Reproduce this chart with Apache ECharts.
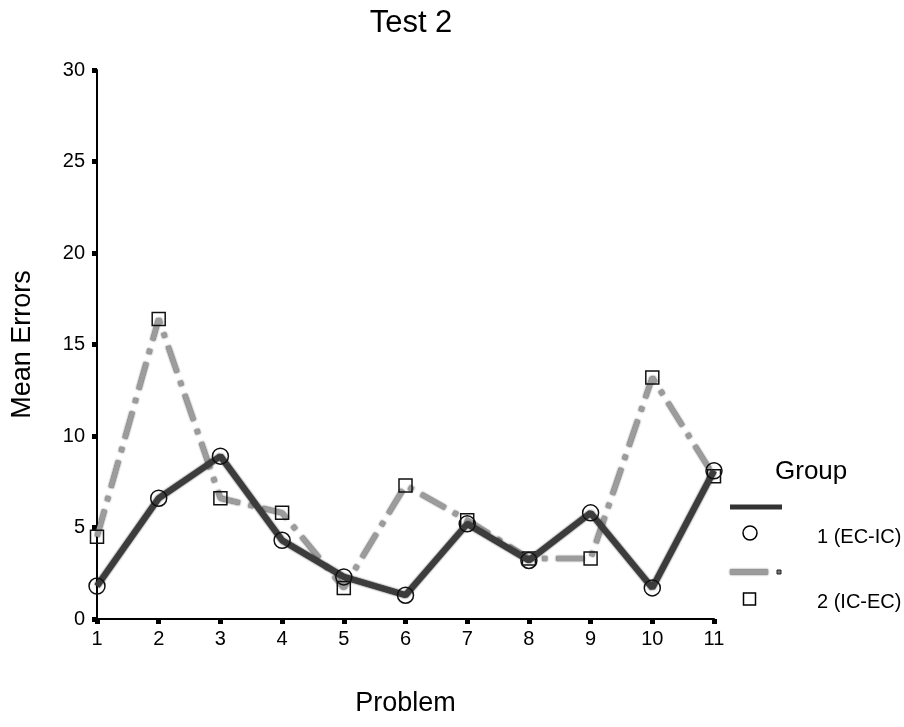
<!DOCTYPE html>
<html>
<head>
<meta charset="utf-8">
<script src="https://cdn.jsdelivr.net/npm/echarts@6/dist/echarts.min.js"></script>
<style>html,body{margin:0;padding:0;background:#fff}#c{width:904px;height:727px}</style>
</head>
<body>
<div id="c"></div>
<script>
var problems = [1,2,3,4,5,6,7,8,9,10,11];
var group1 = [1.8, 6.6, 8.9, 4.3, 2.3, 1.3, 5.2, 3.2, 5.8, 1.7, 8.1];
var group2 = [4.5, 16.4, 6.6, 5.8, 1.7, 7.3, 5.4, 3.3, 3.3, 13.2, 7.8];
var yTicks = [0,5,10,15,20,25,30];
var seriesNames = ['1 (EC-IC)', '2 (IC-EC)'];

var FONT = '"Liberation Sans", Arial, sans-serif';
var chart = echarts.init(document.getElementById('c'));
function pairs(arr){ return problems.map(function(p,i){ return [p, arr[i]]; }); }

chart.setOption({
  animation: false,
  backgroundColor: '#fff',
  title: {
    text: 'Test 2', left: 406, top: 3, textAlign: 'center',
    textStyle: {fontFamily: FONT, fontSize: 31, fontWeight: 'normal', color: '#000'}
  },
  grid: {left: 97, top: 70, width: 617, height: 549, containLabel: false},
  xAxis: {
    type: 'value', min: 1, max: 11, interval: 1,
    name: 'Problem', nameLocation: 'middle', nameGap: 71,
    nameTextStyle: {fontFamily: FONT, fontSize: 27, color: '#000'},
    axisLine: {lineStyle: {color: '#000', width: 2}},
    axisTick: {show: true, length: 5, lineStyle: {color: '#000', width: 5}},
    axisLabel: {fontFamily: FONT, fontSize: 20, color: '#000', margin: 10},
    splitLine: {show: false}
  },
  yAxis: {
    type: 'value', min: yTicks[0], max: yTicks[yTicks.length-1], interval: 5,
    name: 'Mean Errors', nameLocation: 'middle', nameGap: 61, nameRotate: 90,
    nameTextStyle: {fontFamily: FONT, fontSize: 27, color: '#000'},
    axisLine: {show: true, lineStyle: {color: '#000', width: 2}},
    axisTick: {show: true, length: 5, lineStyle: {color: '#000', width: 5}},
    axisLabel: {fontFamily: FONT, fontSize: 20, color: '#000', margin: 12},
    splitLine: {show: false}
  },
  series: [
    {
      name: seriesNames[1], type: 'line', data: pairs(group2), z: 2,
      symbol: 'rect', symbolSize: 13,
      itemStyle: {color: 'rgba(255,255,255,0)', borderColor: '#111', borderWidth: 1.5},
      lineStyle: {color: '#9c9c9c', width: 5, type: [28, 9, 5, 9],
                  shadowColor: '#222', shadowBlur: 2}
    },
    {
      name: seriesNames[0], type: 'line', data: pairs(group1), z: 3,
      symbol: 'circle', symbolSize: 16,
      itemStyle: {color: 'rgba(255,255,255,0)', borderColor: '#111', borderWidth: 1.5},
      lineStyle: {color: '#3c3c3c', width: 6, shadowColor: '#000', shadowBlur: 2}
    }
  ],
  graphic: [
    {type: 'text', left: 775, top: 459, style: {text: 'Group', font: '26px ' + FONT, fill: '#000'}},
    {type: 'line', shape: {x1: 730, y1: 507, x2: 782, y2: 507}, style: {stroke: '#333', lineWidth: 5}},
    {type: 'circle', shape: {cx: 750, cy: 533, r: 7}, style: {fill: 'none', stroke: '#000', lineWidth: 1.5}},
    {type: 'text', left: 817, top: 527, style: {text: seriesNames[0], font: '20px ' + FONT, fill: '#000'}},
    {type: 'line', shape: {x1: 730, y1: 572, x2: 768, y2: 572}, style: {stroke: '#9c9c9c', lineWidth: 5, shadowColor: '#222', shadowBlur: 2}},
    {type: 'rect', shape: {x: 777, y: 570, width: 4, height: 4}, style: {fill: '#777', stroke: '#222', lineWidth: 1}},
    {type: 'rect', shape: {x: 743.5, y: 593, width: 12, height: 12}, style: {fill: 'none', stroke: '#000', lineWidth: 1.5}},
    {type: 'text', left: 817, top: 592, style: {text: seriesNames[1], font: '20px ' + FONT, fill: '#000'}}
  ]
});
</script>
</body>
</html>
